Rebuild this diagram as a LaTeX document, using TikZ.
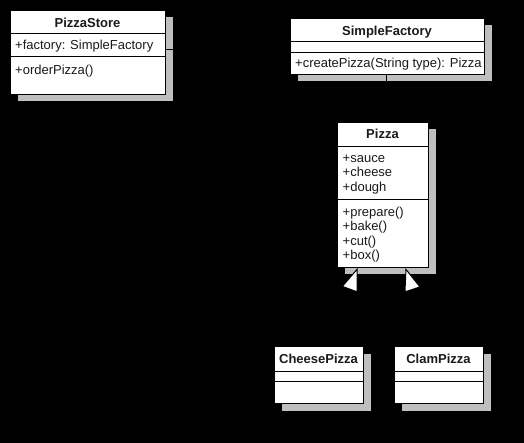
\documentclass[tikz,border=0pt]{standalone}
\usepackage{fontspec}
\setmainfont{Liberation Sans}
\usetikzlibrary{arrows.meta,shadows}
\definecolor{shadowgray}{HTML}{BFBFBF}
\definecolor{txtcol}{HTML}{1A1A1A}
\begin{document}
\begin{tikzpicture}[x=1pt,y=-1pt,
  cls/.style={draw=black, line width=1pt, fill=white, inner sep=0pt, anchor=north west,
    drop shadow={shadow xshift=7pt, shadow yshift=-7pt, fill=shadowgray, opacity=1}},
  divider/.style={draw=black, line width=1pt},
  txt/.style={inner sep=0pt, text=txtcol, font=\fontsize{13}{14.5}\selectfont},
  title/.style={txt, font=\bfseries\fontsize{13}{14.5}\selectfont, anchor=base},
  mem/.style={txt, anchor=base west},
  conn/.style={draw=black, line width=1pt},
  inherit/.style={conn, -{Triangle[length=23pt, width=17pt, fill=white]}}]
\fill[black] (0,0) rectangle (524,443);
\useasboundingbox (0,0) rectangle (524,443);

% PizzaStore
\node[cls, minimum width=155pt, minimum height=84pt] (ps) at (10,10) {};
\draw[divider] (ps.west |- 0,34) -- (ps.east |- 0,34);
\draw[divider] (ps.west |- 0,57) -- (ps.east |- 0,57);
\node[title] (psT) at (87.5,27.4) {PizzaStore};
\node[mem] (psA) at (15,50) {+factory: SimpleFactory};
\node[mem] (psM) at (15,74.7) {+orderPizza()};

% SimpleFactory
\node[cls, minimum width=194pt, minimum height=56pt] (sf) at (290,18) {};
\draw[divider] (sf.west |- 0,42) -- (sf.east |- 0,42);
\draw[divider] (sf.west |- 0,53) -- (sf.east |- 0,53);
\node[title] (sfT) at (387,35.4) {SimpleFactory};
\node[mem] (sfM) at (295,68) {+createPizza(String type): Pizza};

% Pizza
\node[cls, minimum width=91pt, minimum height=145pt] (pz) at (337,122) {};
\draw[divider] (pz.west |- 0,147) -- (pz.east |- 0,147);
\draw[divider] (pz.west |- 0,200) -- (pz.east |- 0,200);
\node[title] (pzT) at (382.5,139) {Pizza};
\node[mem] (pzA1) at (342.5,162.5) {+sauce};
\node[mem] (pzA2) at (342.5,177) {+cheese};
\node[mem] (pzA3) at (342.5,191.5) {+dough};
\node[mem] (pzM1) at (342.5,216.5) {+prepare()};
\node[mem] (pzM2) at (342.5,231) {+bake()};
\node[mem] (pzM3) at (342.5,245.5) {+cut()};
\node[mem] (pzM4) at (342.5,260) {+box()};

% CheesePizza
\node[cls, minimum width=89pt, minimum height=57pt] (cp) at (274,346) {};
\draw[divider] (cp.west |- 0,371) -- (cp.east |- 0,371);
\draw[divider] (cp.west |- 0,381) -- (cp.east |- 0,381);
\node[title] (cpT) at (318.5,363) {CheesePizza};

% ClamPizza
\node[cls, minimum width=89pt, minimum height=57pt] (cl) at (394,346) {};
\draw[divider] (cl.west |- 0,371) -- (cl.east |- 0,371);
\draw[divider] (cl.west |- 0,381) -- (cl.east |- 0,381);
\node[title] (clT) at (438.5,363) {ClamPizza};

% connectors
\draw[conn] (ps.east |- 0,50) -- (sf.west |- 0,50);
\draw[conn] (sf.south -| 386,0) -- (pz.north -| 386,0);
\draw[inherit] ([xshift=10pt]cp.north) -- ([xshift=-25.5pt]pz.south);
\draw[inherit] ([xshift=-8pt]cl.north) -- ([xshift=22.5pt]pz.south);
\end{tikzpicture}
\end{document}
